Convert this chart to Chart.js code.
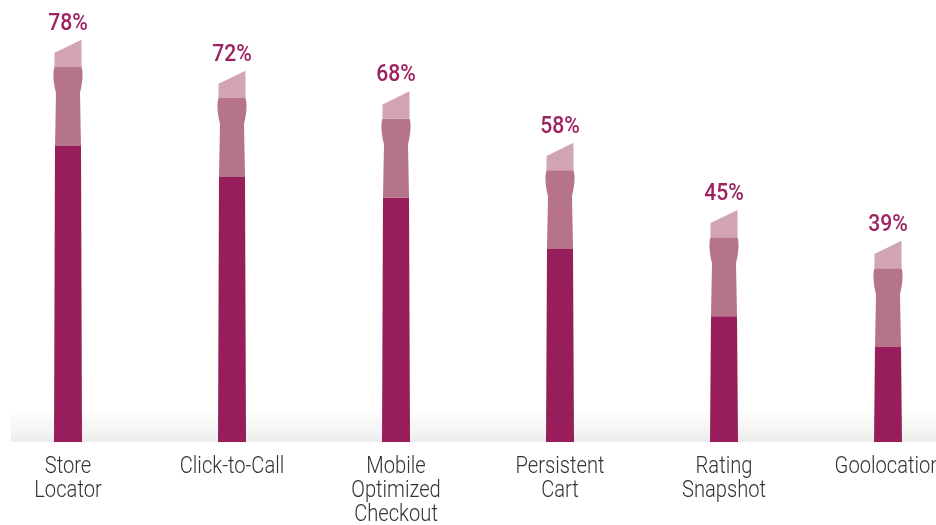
<!DOCTYPE html>
<html><head><meta charset="utf-8">
<script src="https://cdn.jsdelivr.net/npm/chart.js@4.4.1/dist/chart.umd.min.js"></script>
<style>
html,body{margin:0;padding:0;background:#fff;overflow:hidden;width:936px;height:525px;}
#wrap{position:absolute;left:-14px;top:0;width:984px;height:525px;}
</style></head>
<body>
<div id="wrap"><canvas id="c" width="984" height="525"></canvas></div>
<script>
const categories = [["Store","Locator"],["Click-to-Call"],["Mobile","Optimized","Checkout"],["Persistent","Cart"],["Rating","Snapshot"],["Goolocation"]];
const totals = [78, 72, 68, 58, 45, 39];
const handleValues = [57.4, 51.4, 47.4, 37.4, 24.4, 18.4];
const ferruleValues = [15.3, 15.3, 15.3, 15.3, 15.3, 15.3];
const tipValues = [5.3, 5.3, 5.3, 5.3, 5.3, 5.3];
const labels = ["78%","72%","68%","58%","45%","39%"];

const C_DARK = '#971e5a', C_MID = '#b5748a', C_LIGHT = '#d2a4b2', C_TEXT = '#9c2360';

function condensedText(ctx, txt, x, y, sx) {
  ctx.save();
  ctx.translate(x, y);
  ctx.scale(sx, 1);
  ctx.fillText(txt, 0, 0);
  ctx.restore();
}

const brushPlugin = {
  id: 'brush',
  beforeDatasetsDraw(chart) {
    const ctx = chart.ctx, a = chart.chartArea;
    const g = ctx.createLinearGradient(0, a.bottom - 32, 0, a.bottom);
    g.addColorStop(0, 'rgba(240,240,240,0)');
    g.addColorStop(1, '#ececec');
    ctx.save();
    ctx.fillStyle = g;
    ctx.fillRect(25, a.bottom - 32, chart.width - 25, 32);
    ctx.restore();
  },
  afterDatasetsDraw(chart) {
    const ctx = chart.ctx;
    const m0 = chart.getDatasetMeta(0).data, m1 = chart.getDatasetMeta(1).data, m2 = chart.getDatasetMeta(2).data;
    const xs = chart.scales.x, a = chart.chartArea;
    ctx.save();
    for (let i = 0; i < m0.length; i++) {
      // handle
      let e = m0[i], w = e.width, xl = e.x - w/2, xr = e.x + w/2;
      ctx.fillStyle = C_DARK;
      ctx.beginPath();
      ctx.moveTo(xl - 0.5, e.base); ctx.lineTo(xl + 0.5, e.y); ctx.lineTo(xr - 0.5, e.y); ctx.lineTo(xr + 0.5, e.base);
      ctx.closePath(); ctx.fill();
      // ferrule
      e = m1[i]; w = e.width; xl = e.x - w/2; xr = e.x + w/2;
      ctx.fillStyle = C_MID;
      ctx.beginPath();
      ctx.moveTo(xl + 0.5, e.base);
      ctx.lineTo(xl + 1.5, e.y + 26);
      ctx.bezierCurveTo(xl - 1, e.y + 16, xl - 2, e.y + 6, xl, e.y);
      ctx.lineTo(xr, e.y);
      ctx.bezierCurveTo(xr + 2, e.y + 6, xr + 1, e.y + 16, xr - 1.5, e.y + 26);
      ctx.lineTo(xr - 0.5, e.base);
      ctx.closePath(); ctx.fill();
      // tip
      e = m2[i]; w = e.width; xl = e.x - w/2; xr = e.x + w/2;
      ctx.fillStyle = C_LIGHT;
      ctx.beginPath();
      ctx.moveTo(xl, e.base);
      ctx.lineTo(xl, e.y + (e.base - e.y) * 0.48);
      ctx.lineTo(xr, e.y);
      ctx.lineTo(xr, e.base);
      ctx.closePath(); ctx.fill();
      // value label
      ctx.fillStyle = C_TEXT;
      ctx.font = '500 24px Roboto, "Liberation Sans", sans-serif';
      ctx.textAlign = 'center';
      ctx.textBaseline = 'alphabetic';
      condensedText(ctx, labels[i], e.x, e.y - 10, 0.88);
    }
    // category labels
    ctx.fillStyle = '#333333';
    ctx.font = '300 24px Roboto, "Liberation Sans", sans-serif';
    ctx.textAlign = 'center';
    ctx.textBaseline = 'alphabetic';
    categories.forEach((lines, i) => {
      const x = xs.getPixelForTick(i);
      lines.forEach((ln, j) => condensedText(ctx, ln, x, a.bottom + 31 + j * 24, 0.84));
    });
    ctx.restore();
  }
};

new Chart(document.getElementById('c'), {
  type: 'bar',
  data: {
    labels: categories,
    datasets: [
      { data: handleValues, backgroundColor: 'rgba(0,0,0,0)', barThickness: 27 },
      { data: ferruleValues, backgroundColor: 'rgba(0,0,0,0)', barThickness: 27 },
      { data: tipValues, backgroundColor: 'rgba(0,0,0,0)', barThickness: 27 }
    ]
  },
  options: {
    responsive: false,
    animation: false,
    layout: { padding: 0 },
    plugins: { legend: { display: false }, tooltip: { enabled: false } },
    scales: {
      x: {
        stacked: true,
        grid: { display: false, drawTicks: false },
        border: { display: false },
        ticks: { display: false },
        afterFit(s) { s.height = 83; }
      },
      y: {
        stacked: true,
        display: false,
        min: 0,
        max: 85.7
      }
    }
  },
  plugins: [brushPlugin]
});
</script>
</body></html>
